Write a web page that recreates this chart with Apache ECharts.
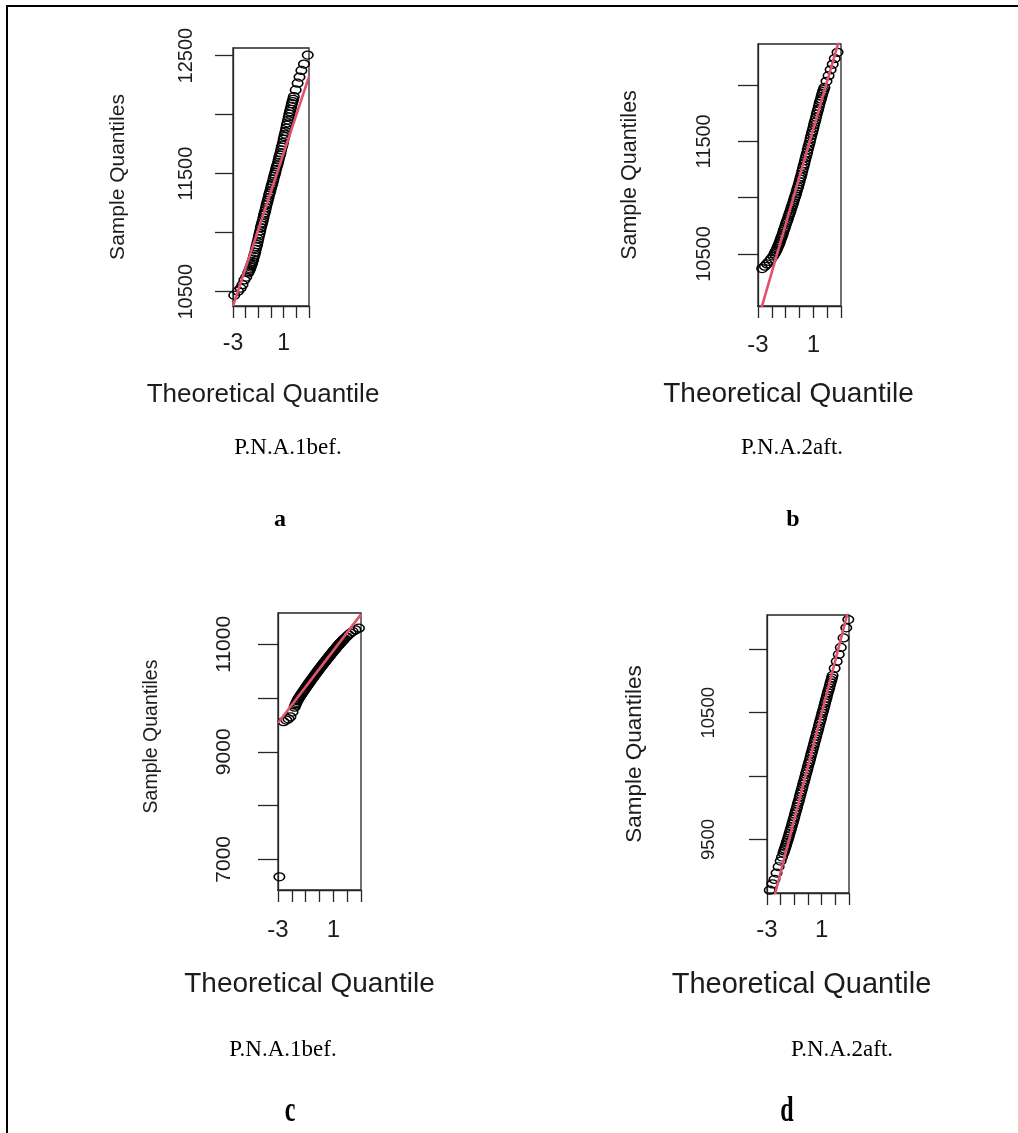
<!DOCTYPE html>
<html><head><meta charset="utf-8">
<script src="https://cdn.jsdelivr.net/npm/echarts@6/dist/echarts.min.js"></script>
<style>html,body{margin:0;padding:0;background:#fff}#c{width:1018px;height:1133px}</style>
</head><body><div id="c"></div>
<script>
// ---- data ----
const xA = [-2.9,-2.6,-2.4,-2.25,-2.1,-1.95,-1.8,-1.7,-1.6,-1.5,-1.4,-1.3,-1.2,-1.1,-1.0,-0.9,-0.8,-0.7,-0.6,-0.5,-0.4,-0.3,-0.2,-0.1,0,0.1,0.2,0.3,0.4,0.5,0.6,0.7,0.8,0.9,1.0,1.1,1.2,1.3,1.4,1.5,1.6,1.7,1.8,1.95,2.1,2.25,2.4,2.6,2.9];
const yA = [10470,10505,10530,10560,10600,10624,10658,10682,10709,10739,10776,10814,10858,10899,10947,10993,11043,11083,11127,11168,11212,11255,11297,11336,11377,11414,11457,11495,11537,11574,11616,11657,11701,11742,11791,11836,11886,11931,11981,12026,12070,12111,12153,12210,12267,12319,12375,12429,12505];
const xB = [-2.7,-2.5,-2.35,-2.2,-2.05,-1.9,-1.8,-1.7,-1.6,-1.5,-1.4,-1.3,-1.2,-1.1,-1.0,-0.9,-0.8,-0.7,-0.6,-0.5,-0.4,-0.3,-0.2,-0.1,0,0.1,0.2,0.3,0.4,0.5,0.6,0.7,0.8,0.9,1.0,1.1,1.2,1.3,1.4,1.5,1.6,1.7,1.8,1.95,2.1,2.25,2.4,2.55,2.75];
const yB = [10370,10392,10412,10434,10457,10481,10501,10526,10552,10581,10614,10648,10682,10721,10757,10792,10830,10864,10903,10938,10978,11015,11057,11097,11142,11185,11234,11280,11329,11377,11427,11474,11524,11572,11619,11669,11715,11765,11809,11857,11899,11942,11978,12033,12083,12135,12184,12235,12290];
const xC = [-2.9,-2.6,-2.4,-2.25,-2.1,-1.95,-1.8,-1.7,-1.6,-1.5,-1.4,-1.3,-1.2,-1.1,-1.0,-0.9,-0.8,-0.7,-0.6,-0.5,-0.4,-0.3,-0.2,-0.1,0,0.1,0.2,0.3,0.4,0.5,0.6,0.7,0.8,0.9,1.0,1.1,1.2,1.3,1.4,1.5,1.6,1.7,1.8,1.95,2.1,2.25,2.4,2.6,2.85];
const yC = [6675,9560,9590,9615,9650,9740,9830,9895,9950,9995,10036,10075,10112,10150,10188,10226,10262,10298,10334,10370,10405,10441,10476,10510,10545,10578,10611,10645,10677,10710,10742,10775,10806,10838,10870,10900,10931,10962,10992,11020,11048,11076,11103,11140,11176,11208,11238,11268,11300];
const xD = [-2.8,-2.6,-2.45,-2.3,-2.15,-2.0,-1.9,-1.8,-1.7,-1.6,-1.5,-1.4,-1.3,-1.2,-1.1,-1.0,-0.9,-0.8,-0.7,-0.6,-0.5,-0.4,-0.3,-0.2,-0.1,0,0.1,0.2,0.3,0.4,0.5,0.6,0.7,0.8,0.9,1.0,1.1,1.2,1.3,1.4,1.5,1.6,1.7,1.8,1.95,2.1,2.25,2.4,2.6,2.8,2.95];
const yD = [9100,9150,9185,9235,9285,9330,9362,9392,9425,9458,9493,9528,9565,9601,9640,9678,9718,9757,9796,9836,9876,9915,9956,9995,10035,10075,10114,10155,10194,10234,10275,10315,10354,10395,10436,10476,10515,10556,10596,10637,10676,10715,10755,10794,10850,10905,10960,11015,11090,11170,11235];

// extra points in the dense middle of each band
const xMid = [-1.75,-1.65,-1.55,-1.45,-1.35,-1.25,-1.15,-1.05,-0.95,-0.85,-0.75,-0.65,-0.55,-0.45,-0.35,-0.25,-0.15,-0.05,0.05,0.15,0.25,0.35,0.45,0.55,0.65,0.75,0.85,0.95,1.05,1.15,1.25,1.35,1.45,1.55,1.65,1.75];
const yAm = [10671,10694,10726,10755,10797,10833,10880,10921,10972,11016,11064,11102,11149,11188,11236,11274,11319,11355,11398,11433,11478,11514,11558,11593,11639,11676,11724,11764,11815,11858,11911,11954,12005,12046,12093,12130];
const yBm = [10516,10537,10568,10596,10633,10663,10703,10737,10776,10809,10849,10882,10922,10956,10999,11034,11079,11118,11165,11207,11259,11302,11355,11399,11452,11497,11550,11594,11646,11690,11742,11785,11836,11876,11923,11958];
const yCm = [9866,9921,9975,10014,10058,10092,10133,10167,10209,10243,10282,10314,10354,10386,10425,10457,10495,10526,10563,10593,10630,10660,10695,10725,10760,10789,10824,10853,10887,10914,10948,10976,11008,11033,11063,11088];
const yDm = [9410,9440,9477,9509,9548,9582,9622,9658,9699,9736,9778,9814,9857,9894,9937,9974,10016,10054,10096,10133,10176,10213,10256,10294,10336,10373,10417,10454,10497,10534,10577,10615,10658,10694,10736,10773];

// reference (qqline) end points
const lineAx = [-3, 3], lineAy = [10379, 12323];
const lineBx = [-3, 3], lineBy = [9915, 12457];
const lineCx = [-3, 3], lineCy = [9537, 11557];
const lineDx = [-3, 3], lineDy = [8825, 11331];

// axes
const xTicks = [-3, -2, -1, 0, 1, 2, 3];
const xTickLabels = [-3, 1];
const yRangeA = [10379, 12565], yTicksA = [10500, 11000, 11500, 12000, 12500], yLabelsA = [10500, 11500, 12500];
const yRangeB = [10038, 12364], yTicksB = [10500, 11000, 11500, 12000], yLabelsB = [10500, 11500];
const yRangeC = [6429, 11582], yTicksC = [7000, 8000, 9000, 10000, 11000], yLabelsC = [7000, 9000, 11000];
const yRangeD = [9078, 11271], yTicksD = [9500, 10000, 10500, 11000], yLabelsD = [9500, 10500];

// texts
const xTitle = 'Theoretical Quantile';
const yTitle = 'Sample Quantiles';
const captions = ['P.N.A.1bef.', 'P.N.A.2aft.', 'P.N.A.1bef.', 'P.N.A.2aft.'];
const panelLetters = ['a', 'b', 'c', 'd'];

// ---- layout ----
const SANS = '"Liberation Sans", Arial, sans-serif';
const SERIF = '"Liberation Serif", "Times New Roman", serif';
const panels = [
  {g:{left:233,top:48,width:76,height:258}, x:xA, y:yA, ym:yAm, lx:lineAx, ly:lineAy, yr:yRangeA, yt:yTicksA, yl:yLabelsA,
   yls:20, ylm:37, ytl:18, xls:23, xlm:26, xns:26, xng:76, xnpad:16, yns:21, yng:104, ynpad:0},
  {g:{left:758,top:44,width:83,height:262}, x:xB, y:yB, ym:yBm, lx:lineBx, ly:lineBy, yr:yRangeB, yt:yTicksB, yl:yLabelsB,
   yls:20, ylm:44, ytl:20, xls:24, xlm:27, xns:28, xng:74, xnpad:22, yns:21.5, yng:117, ynpad:0},
  {g:{left:278,top:613,width:83,height:277}, x:xC, y:yC, ym:yCm, lx:lineCx, ly:lineCy, yr:yRangeC, yt:yTicksC, yl:yLabelsC,
   yls:21, ylm:43, ytl:20, xls:24, xlm:28, xns:28, xng:80, xnpad:20, yns:19.5, yng:116, ynpad:30},
  {g:{left:767,top:615,width:82,height:278}, x:xD, y:yD, ym:yDm, lx:lineDx, ly:lineDy, yr:yRangeD, yt:yTicksD, yl:yLabelsD,
   yls:18.5, ylm:49, ytl:18, xls:24, xlm:25, xns:29, xng:77, xnpad:13, yns:22.5, yng:121, ynpad:0}
];

const TXT = '#1c1c1c';
const AX = '#262626';
const option = {
  animation: false,
  backgroundColor: '#fff',
  grid: [], xAxis: [], yAxis: [], series: [],
  graphic: []
};

panels.forEach((p, i) => {
  option.grid.push(Object.assign({show:true, borderColor:AX, borderWidth:1.3, backgroundColor:'transparent', containLabel:false}, p.g));
  option.xAxis.push({
    type:'value', gridIndex:i, min:-3, max:3, interval:1,
    axisLine:{show:true, onZero:false, lineStyle:{color:AX, width:1.3}},
    axisTick:{show:true, inside:false, length:12, customValues:xTicks, lineStyle:{color:AX, width:1.3}},
    axisLabel:{show:true, customValues:xTickLabels, margin:p.xlm, fontSize:p.xls, fontFamily:SANS, color:TXT, formatter:v=>String(v)},
    splitLine:{show:false},
    name:xTitle, nameLocation:'middle', nameGap:p.xng,
    nameTextStyle:{fontSize:p.xns, fontFamily:SANS, color:TXT, padding:[0, p.xnpad, 0, 0]}
  });
  option.yAxis.push({
    type:'value', gridIndex:i, min:p.yr[0], max:p.yr[1],
    axisLine:{show:true, onZero:false, lineStyle:{color:AX, width:1.3}},
    axisTick:{show:true, inside:false, length:p.ytl, customValues:p.yt, lineStyle:{color:AX, width:1.3}},
    axisLabel:{show:true, customValues:p.yl, rotate:90, margin:p.ylm, fontSize:p.yls, fontFamily:SANS, color:TXT, formatter:v=>String(v)},
    splitLine:{show:false},
    name:yTitle, nameLocation:'middle', nameRotate:90, nameGap:p.yng,
    nameTextStyle:{fontSize:p.yns, fontFamily:SANS, color:TXT, padding:[0, 0, 0, p.ynpad]}
  });
  const pts = p.x.map((v, k) => [v, p.y[k]]).concat(xMid.map((v, k) => [v, p.ym[k]]));
  option.series.push({
    type:'scatter', xAxisIndex:i, yAxisIndex:i, z:2,
    symbol:'circle', symbolSize:[10.5, 8],
    itemStyle:{color:'rgba(0,0,0,0)', borderColor:'#000', borderWidth:1.4, opacity:1},
    data:pts
  });
  option.series.push({
    type:'line', xAxisIndex:i, yAxisIndex:i, z:3, clip:true,
    symbol:'none', lineStyle:{color:'#DF536B', width:2.6},
    data:p.lx.map((v, k) => [v, p.ly[k]])
  });
});

// border of the document frame
option.graphic.push({type:'line', shape:{x1:7, y1:6, x2:1018, y2:6}, style:{stroke:'#000', lineWidth:2}});
option.graphic.push({type:'line', shape:{x1:7, y1:5, x2:7, y2:1133}, style:{stroke:'#000', lineWidth:2}});

const capPos = [[288, 448], [792, 448], [283, 1050], [842, 1050]];
const letPos = [[280, 520], [793, 520], [290, 1112], [787, 1112]];
capPos.forEach((c, i) => {
  option.graphic.push({type:'text', x:c[0], y:c[1], style:{text:captions[i], font:'23px ' + SERIF, fill:'#000', align:'center', verticalAlign:'middle'}});
});
letPos.forEach((c, i) => {
  option.graphic.push({type:'text', x:c[0], y:c[1], scaleY: i >= 2 ? 1.45 : 1,
    style:{text:panelLetters[i], font:'bold 24px ' + SERIF, fill:'#000', align:'center', verticalAlign:'middle'}});
});

const chart = echarts.init(document.getElementById('c'));
chart.setOption(option);
</script>
</body></html>
